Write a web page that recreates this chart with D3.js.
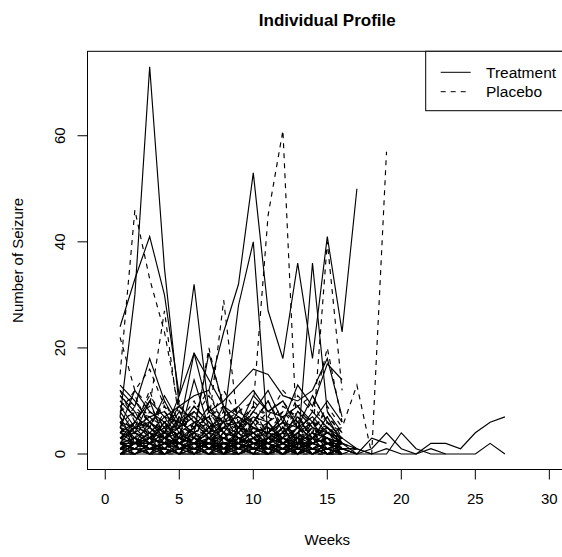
<!DOCTYPE html>
<html><head><meta charset="utf-8">
<script src="https://cdn.jsdelivr.net/npm/d3@7"></script>
<style>html,body{margin:0;padding:0;background:#fff;overflow:hidden}text{font-family:"Liberation Sans",Arial,Helvetica,sans-serif;fill:#000}</style>
</head><body>
<svg id="c" width="562" height="557"></svg>
<script>
const xTicks = [0, 5, 10, 15, 20, 25, 30];
const yTicks = [0, 20, 40, 60];
const legendLabels = ["Treatment", "Placebo"];
const titleText = "Individual Profile";
const xTitle = "Weeks";
const yTitle = "Number of Seizure";

// Treatment subjects (solid), value per week starting at week 1
const t01 = [7, 30, 73, 35, 9, 6, 4, 3, 5, 4, 2, 3, 1, 2, 3, 1];
const t02 = [24, 33, 41, 30, 11, 19, 14, 9, 7, 5, 4, 6, 3, 2, 4, 2];
const t03 = [3, 6, 10, 7, 9, 11, 12, 23, 32, 53, 27, 18, 36, 18, 41, 23, 50];
const t04 = [2, 5, 6, 4, 11, 32, 8, 6, 28, 40, 3, 5, 1, 36, 8, 4];
const t05 = [12, 9, 18, 10, 5, 19, 8, 10, 13, 16, 15, 11, 10, 12, 18, 7];
const t06 = [10, 7, 5, 11, 6, 4, 19, 9, 4, 8, 12, 6, 13, 9, 17, 14];
const t07 = [5, 12, 8, 6, 3, 14, 5, 7, 9, 12, 8, 10, 5, 11, 6, 3];
const t08 = [8, 4, 10, 3, 5, 9, 6, 4, 8, 6, 10, 4, 7, 3, 5, 2];
const t09 = [3, 2, 4, 1, 3, 2, 5, 3, 2, 4, 1, 2, 3, 1, 2, 0];
const t10 = [1, 0, 2, 1, 0, 3, 1, 2, 0, 1, 2, 0, 1, 0, 1, 0, 0, 1, 4, 1, 0, 2, 2, 1, 4, 6, 7];
const t11 = [2, 1, 0, 3, 2, 1, 0, 2, 1, 3, 0, 1, 2, 0, 1, 1, 1, 0, 0, 4, 1, 0, 0, 0, 0, 2, 0];
const t12 = [4, 2, 3, 5, 1, 2, 4, 0, 3, 2, 1, 3, 2, 4, 1, 2, 0, 0, 1, 0, 0, 1, 0];
const t13 = [6, 3, 2, 4, 5, 1, 3, 6, 2, 0, 4, 2, 5, 3, 0, 1];
const t14 = [0, 1, 1, 0, 2, 0, 1, 0, 0, 1, 0, 2, 0, 1, 0, 0];
const t15 = [4, 6, 5, 2, 7, 3, 2, 5, 6, 3, 4, 7, 2, 5, 3, 1];
const t16 = [2, 3, 1, 2, 0, 1, 2, 1, 3, 2, 1, 0, 2, 1, 2, 1, 0];
const t17 = [9, 5, 7, 8, 4, 6, 3, 5, 4, 7, 6, 3, 8, 5, 4, 2];
const t18 = [1, 2, 3, 0, 1, 2, 0, 1, 2, 0, 3, 1, 0, 2, 1, 0];
const t19 = [5, 4, 2, 6, 3, 5, 7, 2, 1, 5, 3, 4, 6, 2, 3, 0];
const t20 = [0, 0, 1, 2, 1, 0, 0, 3, 1, 0, 1, 1, 0, 0, 2, 1];
const t21 = [3, 5, 2, 1, 4, 3, 2, 0, 5, 2, 3, 2, 4, 6, 2, 3, 1];
const t22 = [7, 2, 6, 3, 2, 4, 1, 3, 2, 6, 2, 5, 1, 3, 7, 2];
const t23 = [2, 1, 3, 4, 2, 0, 3, 1, 4, 1, 2, 0, 3, 1, 0, 1];
const t24 = [1, 3, 0, 2, 3, 2, 1, 4, 0, 2, 0, 3, 1, 2, 1, 0];
const t25 = [11, 8, 3, 6, 2, 5, 9, 4, 3, 1, 6, 2, 4, 8, 5, 3];
const t26 = [0, 2, 4, 3, 1, 2, 3, 1, 2, 4, 2, 1, 3, 0, 2, 1, 0, 3, 2];
const t27 = [1, 1, 0, 0, 1, 1, 2, 0, 0, 1, 1, 0, 0, 1, 0, 1, 0];
const t28 = [0, 0, 0, 1, 0, 0, 1, 1, 0, 0, 0, 1, 1, 0, 0, 0];
const t29 = [2, 2, 1, 1, 3, 2, 2, 1, 1, 2, 3, 2, 1, 1, 2, 2];
const t30 = [3, 4, 3, 2, 2, 4, 3, 3, 2, 3, 2, 4, 3, 3, 2, 1, 1, 0];
const t31 = [1, 0, 1, 2, 2, 1, 0, 0, 2, 1, 1, 0, 2, 2, 1, 0];
const t32 = [0, 1, 0, 0, 0, 1, 0, 0, 1, 0, 0, 0, 1, 0, 1, 0];
const t33 = [4, 3, 5, 3, 4, 2, 4, 5, 3, 4, 5, 3, 2, 4, 3, 2];
const t34 = [2, 0, 2, 3, 1, 3, 1, 2, 2, 3, 1, 2, 0, 3, 0, 2, 1];
const t35 = [6, 5, 4, 7, 6, 8, 5, 6, 7, 5, 4, 6, 5, 7, 4, 3];
const t36 = [0, 2, 1, 1, 0, 0, 2, 2, 1, 1, 0, 1, 2, 1, 1, 0];
const t37 = [13, 10, 6, 4, 8, 7, 4, 9, 5, 11, 8, 7, 9, 6, 10, 6];
const t38 = [1, 2, 2, 0, 1, 1, 3, 0, 1, 2, 2, 1, 0, 1, 0, 1];

// Placebo subjects (dashed)
const p01 = [15, 46, 33, 23, 8, 5, 7, 4, 6, 3, 5, 2, 4, 6, 3, 2];
const p02 = [22, 12, 9, 27, 6, 4, 20, 8, 5, 9, 3, 6, 2, 5, 4, 3];
const p03 = [4, 6, 3, 8, 5, 7, 3, 6, 5, 9, 45, 61, 0, 3, 5, 2];
const p04 = [6, 3, 8, 5, 10, 4, 6, 29, 5, 7, 4, 8, 6, 10, 4, 3];
const p05 = [8, 10, 7, 4, 9, 6, 5, 8, 4, 6, 10, 5, 3, 6, 4, 5, 13, 0, 57];
const p06 = [5, 9, 6, 3, 7, 5, 4, 6, 9, 4, 6, 8, 5, 3, 40, 12];
const p07 = [12, 6, 11, 7, 3, 9, 6, 12, 7, 5, 8, 10, 6, 4, 9, 5];
const p08 = [9, 11, 5, 10, 4, 8, 12, 5, 9, 3, 6, 4, 11, 8, 20, 6];
const p09 = [3, 5, 12, 4, 6, 3, 8, 4, 2, 7, 3, 5, 4, 2, 6, 1];
const p10 = [2, 1, 3, 2, 0, 4, 1, 2, 3, 1, 2, 0, 1, 3, 0, 1];
const p11 = [5, 3, 1, 4, 2, 3, 5, 1, 4, 2, 3, 1, 4, 2, 3, 0];
const p12 = [1, 4, 2, 0, 3, 1, 2, 4, 1, 3, 0, 2, 1, 0, 2, 1];
const p13 = [7, 4, 6, 9, 5, 2, 4, 7, 3, 6, 5, 3, 7, 4, 2, 3];
const p14 = [0, 2, 0, 1, 1, 2, 0, 1, 0, 2, 1, 0, 0, 1, 0, 0];
const p15 = [4, 8, 5, 3, 6, 4, 2, 5, 7, 4, 3, 6, 2, 4, 5, 1];
const p16 = [3, 2, 4, 5, 1, 6, 3, 2, 4, 1, 5, 3, 2, 6, 1, 2];
const p17 = [10, 7, 4, 6, 8, 3, 9, 6, 5, 8, 4, 7, 9, 5, 7, 4];
const p18 = [2, 3, 1, 2, 4, 0, 2, 3, 1, 0, 3, 2, 4, 1, 3, 0, 1];
const p19 = [6, 1, 3, 2, 0, 5, 3, 0, 2, 5, 1, 4, 0, 2, 1, 2];
const p20 = [1, 0, 2, 3, 2, 1, 0, 2, 3, 0, 2, 1, 3, 0, 1, 0];
const p21 = [8, 12, 16, 9, 5, 7, 11, 6, 8, 10, 7, 12, 9, 11, 6, 4];
const p22 = [3, 4, 2, 6, 3, 2, 5, 3, 6, 2, 4, 3, 5, 2, 4, 2];
const p23 = [5, 2, 4, 1, 3, 4, 2, 6, 1, 3, 2, 4, 3, 5, 2, 0];
const p24 = [2, 6, 3, 5, 4, 2, 3, 1, 5, 4, 2, 5, 1, 3, 4, 1];
const p25 = [0, 1, 0, 0, 1, 0, 0, 1, 1, 0, 0, 1, 0, 0, 1, 0];
const p26 = [1, 1, 2, 1, 0, 1, 1, 0, 2, 1, 1, 2, 1, 0, 0, 1, 0];
const p27 = [2, 2, 3, 2, 2, 1, 3, 2, 2, 3, 1, 2, 2, 3, 2, 1];
const p28 = [3, 2, 2, 4, 3, 3, 2, 4, 3, 2, 3, 3, 4, 2, 3, 2];
const p29 = [0, 0, 1, 0, 0, 2, 0, 0, 0, 1, 0, 0, 1, 0, 0, 0];
const p30 = [4, 5, 4, 3, 5, 4, 6, 3, 4, 5, 4, 3, 5, 4, 3, 2, 1];
const p31 = [1, 2, 1, 1, 2, 3, 1, 1, 0, 2, 2, 1, 1, 2, 1, 0];
const p32 = [11, 7, 9, 5, 6, 10, 4, 8, 6, 9, 7, 5, 8, 6, 5, 4];
const p33 = [2, 1, 1, 3, 1, 2, 2, 3, 2, 1, 2, 3, 0, 1, 2, 1];
const p34 = [6, 8, 7, 5, 9, 6, 7, 9, 5, 8, 6, 9, 7, 5, 8, 3];

const treatment = [t01,t02,t03,t04,t05,t06,t07,t08,t09,t10,t11,t12,t13,t14,t15,t16,t17,t18,t19,t20,t21,t22,t23,t24,t25,t26,t27,t28,t29,t30,t31,t32,t33,t34,t35,t36,t37,t38];
const placebo = [p01,p02,p03,p04,p05,p06,p07,p08,p09,p10,p11,p12,p13,p14,p15,p16,p17,p18,p19,p20,p21,p22,p23,p24,p25,p26,p27,p28,p29,p30,p31,p32,p33,p34];

const svg = d3.select("#c");
const xDom = [-1.2, 31.2], yDom = [-2.92, 75.92];
const x = d3.scaleLinear().domain(xDom).range([87.5, 567.1]);
const y = d3.scaleLinear().domain(yDom).range([469.5, 51.3]);
const line = d3.line().x((d, i) => x(i + 1)).y(d => y(d));
const DASH = "5,5";

const gl = svg.append("g").attr("fill", "none").attr("stroke", "#000").attr("stroke-width", 1.15);
const groups = [];
treatment.forEach(s => groups.push({s, dash: null}));
placebo.forEach(s => groups.push({s, dash: DASH}));
groups.forEach(o => {
  const p = gl.append("path").attr("d", line(o.s));
  if (o.dash) p.attr("stroke-dasharray", o.dash);
});

// plot box
svg.append("rect").attr("x", x(xDom[0])).attr("y", y(yDom[1]))
  .attr("width", x(xDom[1]) - x(xDom[0])).attr("height", y(yDom[0]) - y(yDom[1]))
  .attr("fill", "none").attr("stroke", "#000").attr("stroke-width", 1);

// x axis
const yb = y(yDom[0]);
const xa = svg.append("g");
xa.append("line").attr("x1", x(xTicks[0])).attr("x2", x(xTicks[xTicks.length-1])).attr("y1", yb).attr("y2", yb).attr("stroke", "#000");
xTicks.forEach(t => {
  xa.append("line").attr("x1", x(t)).attr("x2", x(t)).attr("y1", yb).attr("y2", yb + 10).attr("stroke", "#000");
  xa.append("text").attr("x", x(t)).attr("y", yb + 34).attr("text-anchor", "middle").attr("font-size", 15).text(t);
});
// y axis
const xl = x(xDom[0]);
const ya = svg.append("g");
ya.append("line").attr("x1", xl).attr("x2", xl).attr("y1", y(yTicks[0])).attr("y2", y(yTicks[yTicks.length-1])).attr("stroke", "#000");
yTicks.forEach(t => {
  ya.append("line").attr("x1", xl).attr("x2", xl - 10).attr("y1", y(t)).attr("y2", y(t)).attr("stroke", "#000");
  ya.append("text").attr("transform", `translate(${xl - 23},${y(t)}) rotate(-90)`).attr("text-anchor", "middle").attr("font-size", 15).text(t);
});

const cx = (x(xDom[0]) + x(xDom[1])) / 2, cy = (y(yDom[0]) + y(yDom[1])) / 2;
svg.append("text").attr("x", cx).attr("y", 26).attr("text-anchor", "middle").attr("font-size", 17).attr("font-weight", "bold").text(titleText);
svg.append("text").attr("x", cx).attr("y", 545).attr("text-anchor", "middle").attr("font-size", 15).text(xTitle);
svg.append("text").attr("transform", `translate(23,${cy}) rotate(-90)`).attr("text-anchor", "middle").attr("font-size", 15).text(yTitle);

// legend
const lg = svg.append("g");
const lx = 425.7, ly = y(yDom[1]);
lg.append("rect").attr("x", lx).attr("y", ly).attr("width", x(xDom[1]) - lx).attr("height", 110.7 - ly)
  .attr("fill", "#fff").attr("stroke", "#000");
legendLabels.forEach((lab, i) => {
  const yy = 72.3 + i * 19.4;
  const l = lg.append("line").attr("x1", 440.7).attr("x2", 470.7).attr("y1", yy).attr("y2", yy).attr("stroke", "#000");
  if (i === 1) l.attr("stroke-dasharray", DASH);
  lg.append("text").attr("x", 486).attr("y", yy + 5.3).attr("font-size", 15.5).text(lab);
});
</script>
</body></html>
